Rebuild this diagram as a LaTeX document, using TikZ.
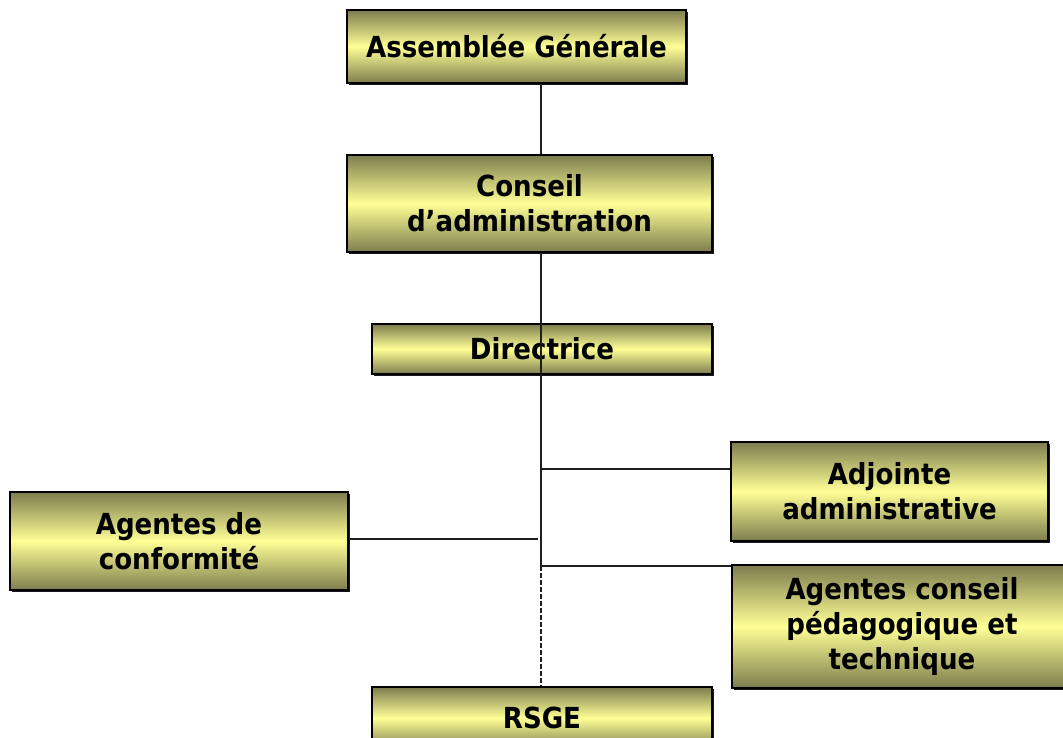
\documentclass[tikz,border=0pt]{standalone}
\usepackage{fontspec}
\setmainfont{DejaVu Sans Condensed}
\usetikzlibrary{shadows}
\definecolor{boxdark}{RGB}{125,125,78}
\definecolor{boxlight}{RGB}{255,255,150}
\definecolor{linec}{RGB}{30,30,30}
\tikzset{
  orgbox/.style={draw=black, line width=1.3pt, top color=boxdark, bottom color=boxdark, middle color=boxlight,
    font=\fontsize{29}{35}\selectfont\bfseries, align=center, inner sep=0pt,
    drop shadow={shadow xshift=1.5pt, shadow yshift=-1.5pt, fill=black, opacity=0.9}},
  link/.style={draw=linec, line width=1.8pt},
  dlink/.style={draw=linec, line width=1.8pt, dash pattern=on 4.5pt off 2.5pt}
}
\begin{document}
\begin{tikzpicture}[x=1pt,y=-1pt]
\useasboundingbox (0,0) rectangle (1063,737);
\node[orgbox, minimum width=339pt, minimum height=73pt] (ag) at (516.5,46.5) {Assemblée Générale};
\node[orgbox, minimum width=365pt, minimum height=97pt] (ca) at (529.5,203.5) {Conseil\\d’administration};
\node[orgbox, minimum width=340pt, minimum height=50pt] (dir) at (542,349) {Directrice};
\node[orgbox, minimum width=317pt, minimum height=99pt] (adj) at (889.5,491.5) {Adjointe\\administrative};
\node[orgbox, minimum width=340pt, minimum height=123pt] (acp) at (902,626.5) {Agentes conseil\\pédagogique et\\technique};
\node[orgbox, minimum width=338pt, minimum height=98pt] (conf) at (179,541) {Agentes de\\conformité};
\node[orgbox, minimum width=340pt, minimum height=62pt] (rsge) at (542,718) {RSGE};
\coordinate (j1) at (541,469);
\coordinate (j2) at (541,566);
\coordinate (jl) at (538,539);
\draw[link] (ag.south -| j1) -- (ca.north -| j1);
\draw[link] (ca.south -| j1) -- (dir.south -| j1);
\draw[link] (dir.south -| j1) -- (j2);
\draw[link] (j1) -- (adj.west |- j1);
\draw[link] (j2) -- (acp.west |- j2);
\draw[link] (conf.east |- jl) -- (jl);
\draw[dlink] (j2) -- (rsge.north -| j2);
\end{tikzpicture}
\end{document}
